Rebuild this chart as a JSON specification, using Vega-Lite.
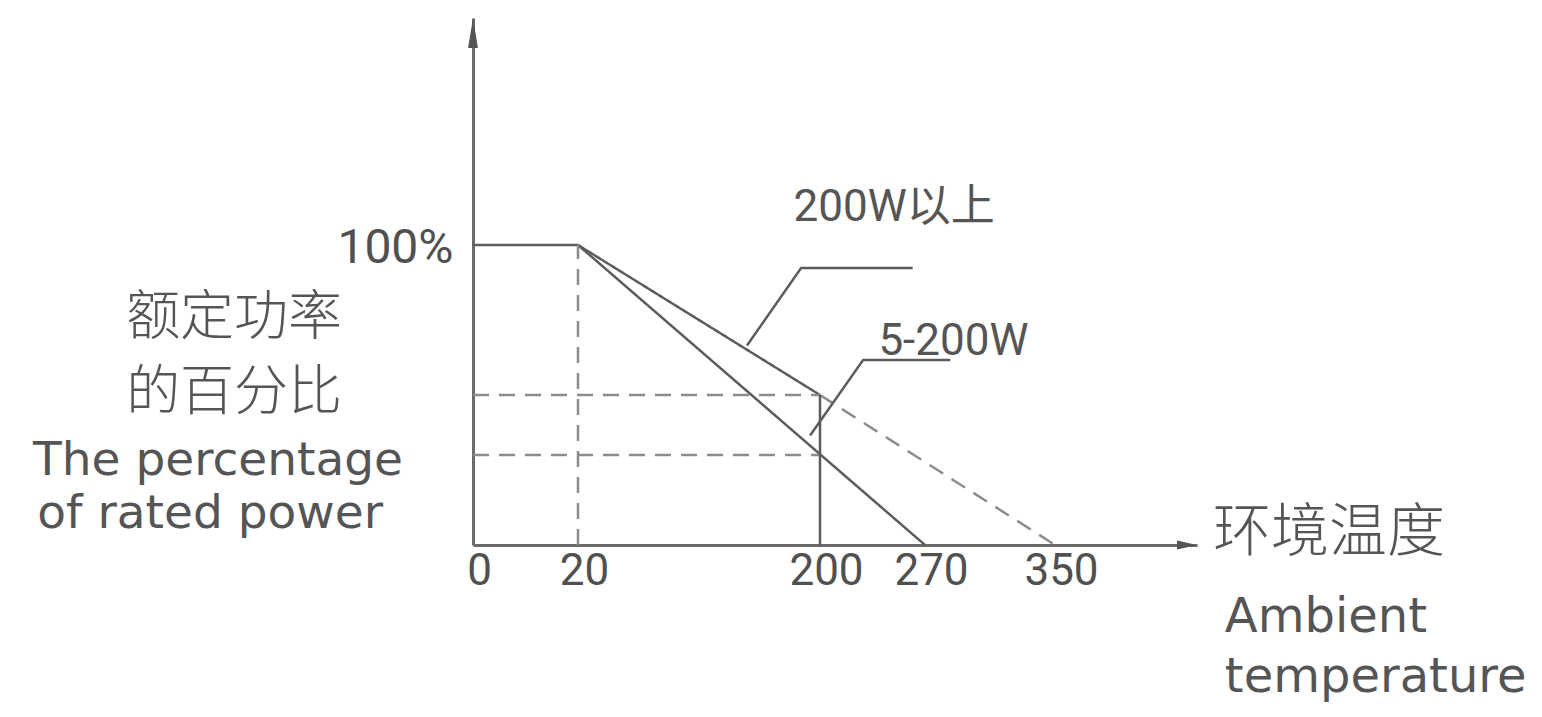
{
  "$schema": "https://vega.github.io/schema/vega-lite/v6.json",
  "autosize": {"type": "none"},
  "width": 724,
  "height": 527,
  "padding": {"left": 473, "top": 18, "right": 345, "bottom": 172},
  "background": "white",
  "config": {"view": {"stroke": null}},
  "datasets": {
    "lines": [
      {"id": "flat", "style": "solid", "k": 0, "x": 0, "y": 100},
      {"id": "flat", "style": "solid", "k": 1, "x": 20, "y": 100},
      {"id": "200W以上", "style": "solid", "k": 0, "x": 20, "y": 100},
      {"id": "200W以上", "style": "solid", "k": 1, "x": 200, "y": 50},
      {"id": "200W以上 ext", "style": "dashed", "k": 0, "x": 200, "y": 50},
      {"id": "200W以上 ext", "style": "dashed", "k": 1, "x": 350, "y": 0},
      {"id": "5-200W", "style": "solid", "k": 0, "x": 20, "y": 100},
      {"id": "5-200W", "style": "solid", "k": 1, "x": 270, "y": 0},
      {"id": "v20", "style": "dashed", "k": 0, "x": 20, "y": 0},
      {"id": "v20", "style": "dashed", "k": 1, "x": 20, "y": 100},
      {"id": "h50", "style": "dashed", "k": 0, "x": 0, "y": 50},
      {"id": "h50", "style": "dashed", "k": 1, "x": 200, "y": 50},
      {"id": "h30", "style": "dashed", "k": 0, "x": 0, "y": 30},
      {"id": "h30", "style": "dashed", "k": 1, "x": 200, "y": 30},
      {"id": "v200", "style": "solid", "k": 0, "x": 200, "y": 0},
      {"id": "v200", "style": "solid", "k": 1, "x": 200, "y": 50},
      {"id": "leader1", "style": "solid", "k": 0, "x": 261.8, "y": 92.3},
      {"id": "leader1", "style": "solid", "k": 1, "x": 185.9, "y": 92.3},
      {"id": "leader1", "style": "solid", "k": 2, "x": 145.7, "y": 66.5},
      {"id": "leader2", "style": "solid", "k": 0, "x": 285.6, "y": 61.7},
      {"id": "leader2", "style": "solid", "k": 1, "x": 228.8, "y": 61.7},
      {"id": "leader2", "style": "solid", "k": 2, "x": 192.6, "y": 36.5}
    ],
    "one": [{}]
  },
  "layer": [
    {
      "data": {"name": "lines"},
      "mark": {"type": "line", "strokeWidth": 2.5, "strokeCap": "butt"},
      "encoding": {
        "x": {
          "field": "x",
          "type": "quantitative",
          "scale": {"domain": [0, 20, 200, 270, 350, 400], "range": [0, 105, 347, 452, 582, 724], "nice": false, "zero": false},
          "axis": {
            "values": [0, 20, 200, 270, 350],
            "title": null,
            "ticks": false,
            "grid": false,
            "labelFlush": false,
            "labelOverlap": false,
            "labelBound": false,
            "labelPadding": 4,
            "labelOffset": 6,
            "labelFont": "Roboto",
            "labelFontSize": 44,
            "labelColor": "#505050",
            "domainColor": "#6a6a6a",
            "domainWidth": 3
          }
        },
        "y": {
          "field": "y",
          "type": "quantitative",
          "scale": {"domain": [0, 175.67], "nice": false, "zero": false},
          "axis": {
            "values": [100],
            "labelExpr": "datum.value + '%'",
            "title": null,
            "ticks": false,
            "grid": false,
            "labelPadding": 20,
            "labelBaseline": "middle",
            "labelOffset": 3,
            "labelFont": "Roboto",
            "labelFontSize": 48,
            "labelColor": "#505050",
            "domainColor": "#6a6a6a",
            "domainWidth": 3
          }
        },
        "detail": {"field": "id"},
        "order": {"field": "k"},
        "strokeDash": {"field": "style", "scale": {"domain": ["solid", "dashed"], "range": [[1, 0], [16, 10]]}, "legend": null},
        "color": {"field": "style", "scale": {"domain": ["solid", "dashed"], "range": ["#5c5c5c", "#8c8c8c"]}, "legend": null}
      }
    },
    {
      "data": {"name": "one"},
      "mark": {"type": "point", "shape": "M0,0L-0.33,2L0.33,2Z", "size": 900, "filled": true, "opacity": 1, "color": "#555555"},
      "encoding": {"x": {"datum": 0, "type": "quantitative"}, "y": {"datum": 175.67, "type": "quantitative"}}
    },
    {
      "data": {"name": "one"},
      "mark": {"type": "point", "shape": "M0,0L-2,-0.45L-2,0.45Z", "size": 400, "filled": true, "opacity": 1, "color": "#555555"},
      "encoding": {"x": {"datum": 400, "type": "quantitative"}, "y": {"datum": 0, "type": "quantitative"}}
    },
    {
      "data": {"name": "one"},
      "mark": {"type": "text", "text": "额定功率", "font": "Noto Sans CJK SC", "fontWeight": 300, "fontSize": 54, "align": "center", "baseline": "middle", "color": "#555555"},
      "encoding": {"x": {"datum": -45.5, "type": "quantitative"}, "y": {"datum": 75.3, "type": "quantitative"}}
    },
    {
      "data": {"name": "one"},
      "mark": {"type": "text", "text": "的百分比", "font": "Noto Sans CJK SC", "fontWeight": 300, "fontSize": 54, "align": "center", "baseline": "middle", "color": "#555555"},
      "encoding": {"x": {"datum": -45.5, "type": "quantitative"}, "y": {"datum": 50.3, "type": "quantitative"}}
    },
    {
      "data": {"name": "one"},
      "mark": {"type": "text", "text": "The percentage", "font": "DejaVu Sans", "fontSize": 47, "align": "left", "baseline": "alphabetic", "color": "#555555"},
      "encoding": {"x": {"datum": -83.8, "type": "quantitative"}, "y": {"datum": 23.2, "type": "quantitative"}}
    },
    {
      "data": {"name": "one"},
      "mark": {"type": "text", "text": "of rated power", "font": "DejaVu Sans", "fontSize": 47, "align": "left", "baseline": "alphabetic", "color": "#555555"},
      "encoding": {"x": {"datum": -83.0, "type": "quantitative"}, "y": {"datum": 5.6, "type": "quantitative"}}
    },
    {
      "data": {"name": "one"},
      "mark": {"type": "text", "text": "环境温度", "font": "Noto Sans CJK SC", "fontWeight": 300, "fontSize": 58, "align": "left", "baseline": "middle", "color": "#555555"},
      "encoding": {"x": {"datum": 405.6, "type": "quantitative"}, "y": {"datum": 3.7, "type": "quantitative"}}
    },
    {
      "data": {"name": "one"},
      "mark": {"type": "text", "text": "Ambient", "font": "DejaVu Sans", "fontSize": 48, "align": "left", "baseline": "alphabetic", "color": "#555555"},
      "encoding": {"x": {"datum": 409.8, "type": "quantitative"}, "y": {"datum": -29, "type": "quantitative"}}
    },
    {
      "data": {"name": "one"},
      "mark": {"type": "text", "text": "temperature", "font": "DejaVu Sans", "fontSize": 48, "align": "left", "baseline": "alphabetic", "color": "#555555"},
      "encoding": {"x": {"datum": 409.8, "type": "quantitative"}, "y": {"datum": -49, "type": "quantitative"}}
    },
    {
      "data": {"name": "one"},
      "mark": {"type": "text", "text": "200W以上", "font": "Roboto, Noto Sans CJK SC", "fontSize": 44, "align": "center", "baseline": "middle", "color": "#555555"},
      "encoding": {"x": {"datum": 249.4, "type": "quantitative"}, "y": {"datum": 112.3, "type": "quantitative"}}
    },
    {
      "data": {"name": "one"},
      "mark": {"type": "text", "text": "5-200W", "font": "Roboto", "fontSize": 44, "align": "center", "baseline": "middle", "color": "#555555"},
      "encoding": {"x": {"datum": 287.5, "type": "quantitative"}, "y": {"datum": 67.7, "type": "quantitative"}}
    }
  ]
}
